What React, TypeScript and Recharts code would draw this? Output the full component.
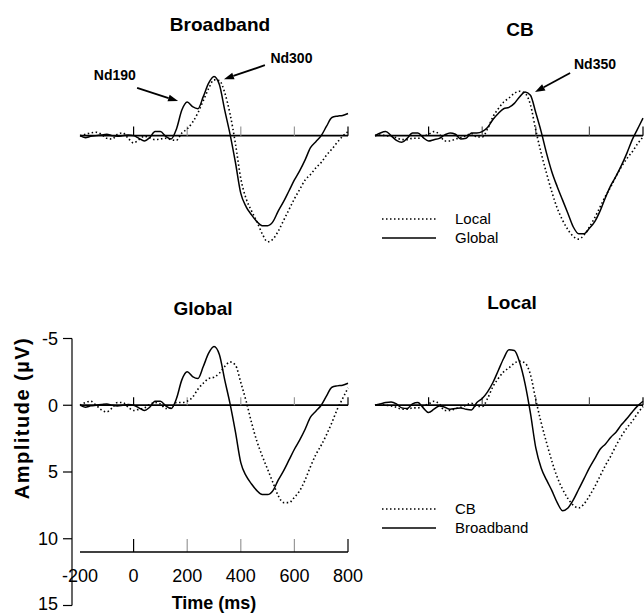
import { Legend, Line, LineChart, ReferenceDot, ReferenceLine, XAxis, YAxis } from "recharts";

const FONT = "Arial, 'Liberation Sans', Helvetica, sans-serif";

// time points (ms)
const TIMES = [
  -200, -180, -160, -140, -120, -100, -80, -60, -40, -20, 0, 20, 40, 60, 80, 100, 120, 140, 160, 180, 200,
  220, 240, 260, 280, 300, 320, 340, 360, 380, 400, 420, 440, 460, 480, 500, 520, 540, 560, 580, 600,
  620, 640, 660, 680, 700, 720, 740, 760, 780, 800,
];

// amplitudes (µV), negative is up
const BB_GLOBAL = [
  0.0, 0.15, 0.05, 0.0, -0.05, -0.1, 0.0, 0.05, 0.0, -0.05, 0.0, 0.2, 0.4, 0.15, -0.3, -0.3, 0.05, 0.25, -0.5, -1.9, -2.5,
  -2.15, -2.0, -2.9, -3.9, -4.4, -3.8, -1.9, -0.1, 2.0, 4.3, 5.3, 5.9, 6.4, 6.7, 6.7, 6.4, 5.6, 4.9, 4.1, 3.3,
  2.6, 1.8, 0.9, 0.45, 0.0, -0.7, -1.35, -1.45, -1.5, -1.65,
];
const BB_LOCAL = [
  0.0, -0.1, -0.2, -0.25, -0.1, 0.2, 0.25, -0.1, -0.2, 0.2, 0.55, 0.3, 0.05, 0.15, 0.3, 0.25, 0.2, 0.3, 0.35, -0.2, -0.5,
  -1.0, -1.7, -2.6, -3.5, -4.15, -4.1, -3.2, -1.6, 0.6, 3.2, 4.7, 5.6, 6.4, 7.3, 7.9, 7.7, 7.1, 6.3, 5.5, 4.7,
  4.0, 3.3, 2.9, 2.4, 2.0, 1.45, 1.0, 0.5, 0.05, -0.3,
];
const CB_GLOBAL = [
  0.0, -0.2, -0.3, 0.0, 0.35, 0.5, 0.2, -0.2, -0.2, 0.15, 0.4, 0.3, 0.2, -0.05, -0.2, -0.1, 0.25, 0.2, -0.2, -0.2, -0.3,
  -0.6, -1.2, -1.65, -2.0, -2.1, -2.4, -2.9, -3.25, -3.0, -1.7, -0.3, 1.3, 2.7, 3.8, 4.8, 5.8, 6.8, 7.3, 7.3, 6.9,
  6.4, 5.6, 4.6, 3.7, 3.0, 2.2, 1.3, 0.3, -0.5, -1.3,
];
const CB_LOCAL = [
  0.0, -0.05, 0.0, 0.05, 0.15, 0.3, 0.3, 0.2, 0.2, 0.05, -0.1, -0.3, -0.1, 0.4, 0.4, 0.25, 0.15, 0.0, -0.15, 0.1, 0.1,
  -0.5, -1.4, -2.0, -2.5, -2.8, -3.15, -3.3, -3.15, -2.3, -0.4, 1.3, 2.8, 4.2, 5.4, 6.3, 7.0, 7.5, 7.7, 7.4, 6.8,
  6.1, 5.3, 4.5, 3.8, 3.0, 2.3, 1.7, 1.2, 0.6, 0.1,
];

const X_TICKS = [-200, 0, 200, 400, 600, 800];
const ZERO_TICKS = [0, 200, 400, 600, 800];
const Y_TICKS = [-5, 0, 5, 10, 15];

// peak labels: text position and arrow (tail -> head), in data units
const BB_NOTES = [
  { text: "Nd190", tx: -70, ty: -4.5, from: [13, -3.55], to: [166, -2.57] },
  { text: "Nd300", tx: 589, ty: -5.74, from: [490, -5.24], to: [337, -4.2] },
];
const CB_NOTES = [{ text: "Nd350", tx: 621, ty: -5.36, from: [528, -4.66], to: [397, -3.24] }];

const rows = TIMES.map((t, i) => ({
  t,
  bbG: BB_GLOBAL[i],
  bbL: BB_LOCAL[i],
  cbG: CB_GLOBAL[i],
  cbL: CB_LOCAL[i],
}));

const DASH = "1.5 2.5";

const Arrow = (p: any) => {
  const { x1, y1, x2, y2 } = p;
  const a = Math.atan2(y2 - y1, x2 - x1);
  const bx = x2 - 10 * Math.cos(a);
  const by = y2 - 10 * Math.sin(a);
  const nx = -Math.sin(a) * 3.5;
  const ny = Math.cos(a) * 3.5;
  return (
    <g>
      <line x1={x1} y1={y1} x2={bx} y2={by} stroke="#000" strokeWidth={1.8} />
      <polygon points={`${x2},${y2} ${bx + nx},${by + ny} ${bx - nx},${by - ny}`} fill="#000" />
    </g>
  );
};

function notes(list: typeof BB_NOTES) {
  return list.flatMap((n) => [
    <ReferenceLine
      key={n.text + "a"}
      segment={[
        { x: n.from[0], y: n.from[1] },
        { x: n.to[0], y: n.to[1] },
      ]}
      ifOverflow="visible"
      shape={Arrow}
    />,
    <ReferenceDot
      key={n.text + "t"}
      x={n.tx}
      y={n.ty}
      r={0}
      fill="none"
      stroke="none"
      ifOverflow="visible"
      label={{ value: n.text, position: "center", fontSize: 14, fontWeight: "bold", fill: "#000", fontFamily: FONT }}
    />,
  ]);
}

function zeroTicks(mid: string, len: number) {
  return ZERO_TICKS.map((t) => (
    <ReferenceLine
      key={"z" + t}
      segment={[
        { x: t, y: 0 },
        { x: t, y: -len },
      ]}
      stroke={t === 0 || t === 800 ? "#000" : mid}
      strokeWidth={1.2}
      ifOverflow="visible"
    />
  ));
}

// dotted series first, as in the figure
const LegendBox = ({ payload }: any) => {
  const items = [...(payload || [])].sort(
    (a: any, b: any) => (b.payload?.strokeDasharray ? 1 : 0) - (a.payload?.strokeDasharray ? 1 : 0)
  );
  return (
    <div style={{ fontFamily: FONT, fontSize: 15, color: "#000" }}>
      {items.map((e: any) => (
        <div key={e.value} style={{ display: "flex", alignItems: "center", height: 19 }}>
          <svg width={56} height={4}>
            <line
              x1={0}
              y1={2}
              x2={54}
              y2={2}
              stroke="#000"
              strokeWidth={1.3}
              strokeDasharray={e.payload?.strokeDasharray}
            />
          </svg>
          <span style={{ marginLeft: 17 }}>{e.value}</span>
        </div>
      ))}
    </div>
  );
};

function waves(dottedKey: string, dottedName: string, solidKey: string, solidName: string) {
  return [
    <Line
      key="d"
      dataKey={dottedKey}
      name={dottedName}
      type="monotone"
      stroke="#000"
      strokeWidth={1.6}
      strokeDasharray={DASH}
      dot={false}
      isAnimationActive={false}
    />,
    <Line
      key="s"
      dataKey={solidKey}
      name={solidName}
      type="monotone"
      stroke="#000"
      strokeWidth={1.5}
      dot={false}
      isAnimationActive={false}
    />,
  ];
}

const legend = (
  <Legend
    layout="vertical"
    align="center"
    verticalAlign="middle"
    wrapperStyle={{ left: 87, top: 209, width: "auto" }}
    content={LegendBox}
  />
);

const TOP_MARGIN = { top: 55, right: 12, bottom: 30, left: 80 };
const BOTTOM_MARGIN = { top: 48.5, right: 12, bottom: 62, left: 80 };

const title = (text: string, cx: number, top: number) => (
  <div
    style={{
      position: "absolute",
      left: cx - 100,
      top,
      width: 200,
      textAlign: "center",
      fontFamily: FONT,
      fontWeight: "bold",
      fontSize: 19,
      lineHeight: "20px",
    }}
  >
    {text}
  </div>
);

export default function App() {
  return (
    <div
      style={{
        position: "absolute",
        left: 0,
        top: 0,
        width: 644,
        height: 614,
        overflow: "hidden",
        background: "#fff",
      }}
    >
      {/* Broadband */}
      <div style={{ position: "absolute", left: 0, top: 0 }}>
        <LineChart width={360} height={300} data={rows} margin={TOP_MARGIN}>
          <XAxis type="number" dataKey="t" domain={[-200, 800]} hide />
          <YAxis type="number" domain={[-6, 10]} reversed hide />
          <ReferenceLine y={0} stroke="#000" strokeWidth={1.8} />
          {zeroTicks("#999", 0.67)}
          {waves("bbL", "Local", "bbG", "Global")}
          {notes(BB_NOTES)}
        </LineChart>
      </div>

      {/* CB */}
      <div style={{ position: "absolute", left: 295, top: 0 }}>
        <LineChart width={360} height={300} data={rows} margin={TOP_MARGIN}>
          <XAxis type="number" dataKey="t" domain={[-200, 800]} hide />
          <YAxis type="number" domain={[-6, 10]} reversed hide />
          <ReferenceLine y={0} stroke="#000" strokeWidth={1.8} />
          {zeroTicks("#555", 0.67)}
          {waves("cbL", "Local", "cbG", "Global")}
          {notes(CB_NOTES)}
          {legend}
        </LineChart>
      </div>

      {/* Global: y axis */}
      <div style={{ position: "absolute", left: 0, top: 290 }}>
        <LineChart width={90} height={324} data={rows} margin={{ top: 48.5, right: 10, bottom: 8.5, left: 0 }}>
          <XAxis type="number" dataKey="t" domain={[-200, 800]} hide />
          <YAxis
            type="number"
            domain={[-5, 15]}
            reversed
            ticks={Y_TICKS}
            width={72}
            tickSize={9}
            tickMargin={5}
            axisLine={{ stroke: "#000", strokeWidth: 1.2 }}
            tickLine={{ stroke: "#000", strokeWidth: 1.2 }}
            tick={{ fill: "#000", fontSize: 18, fontFamily: FONT }}
          />
          <Line dataKey="bbG" stroke="none" dot={false} isAnimationActive={false} legendType="none" />
        </LineChart>
      </div>

      {/* Global */}
      <div style={{ position: "absolute", left: 0, top: 290 }}>
        <LineChart width={380} height={324} data={rows} margin={{ top: 48.5, right: 32, bottom: 32, left: 80 }}>
          <XAxis
            type="number"
            dataKey="t"
            domain={[-200, 800]}
            ticks={X_TICKS}
            height={30}
            tickSize={6}
            tickMargin={11}
            tickLine={false}
            interval={0}
            axisLine={{ stroke: "#000", strokeWidth: 1.5 }}
            tick={{ fill: "#000", fontSize: 18, fontFamily: FONT }}
            label={{
              value: "Time (ms)",
              position: "bottom",
              offset: 14,
              fontSize: 18,
              fontWeight: "bold",
              fill: "#000",
              fontFamily: FONT,
            }}
          />
          <YAxis type="number" domain={[-5, 11]} reversed hide />
          <ReferenceLine y={0} stroke="#000" strokeWidth={1.8} />
          {zeroTicks("#999", 0.6)}
          {ZERO_TICKS.map((t) => (
            <ReferenceLine
              key={"x" + t}
              segment={[
                { x: t, y: 11 },
                { x: t, y: 10.03 },
              ]}
              stroke={t === 0 || t === 800 ? "#000" : "#999"}
              strokeWidth={1.2}
              ifOverflow="visible"
            />
          ))}
          {waves("cbG", "CB", "bbG", "Broadband")}
        </LineChart>
      </div>

      {/* Local */}
      <div style={{ position: "absolute", left: 295, top: 290 }}>
        <LineChart width={360} height={324} data={rows} margin={BOTTOM_MARGIN}>
          <XAxis type="number" dataKey="t" domain={[-200, 800]} hide />
          <YAxis type="number" domain={[-5, 11]} reversed hide />
          <ReferenceLine y={0} stroke="#000" strokeWidth={1.8} />
          {zeroTicks("#555", 0.6)}
          {waves("cbL", "CB", "bbL", "Broadband")}
          {legend}
        </LineChart>
      </div>

      {title("Broadband", 220, 15)}
      {title("CB", 520, 20)}
      {title("Global", 203, 299)}
      {title("Local", 512, 293)}

      <div
        style={{
          position: "absolute",
          left: 22 - 110,
          top: 418 - 13,
          width: 220,
          height: 26,
          lineHeight: "26px",
          textAlign: "center",
          transform: "rotate(-90deg)",
          fontFamily: FONT,
          fontWeight: "bold",
          fontSize: 20,
          letterSpacing: 1.5,
        }}
      >
        Amplitude (µV)
      </div>
    </div>
  );
}
